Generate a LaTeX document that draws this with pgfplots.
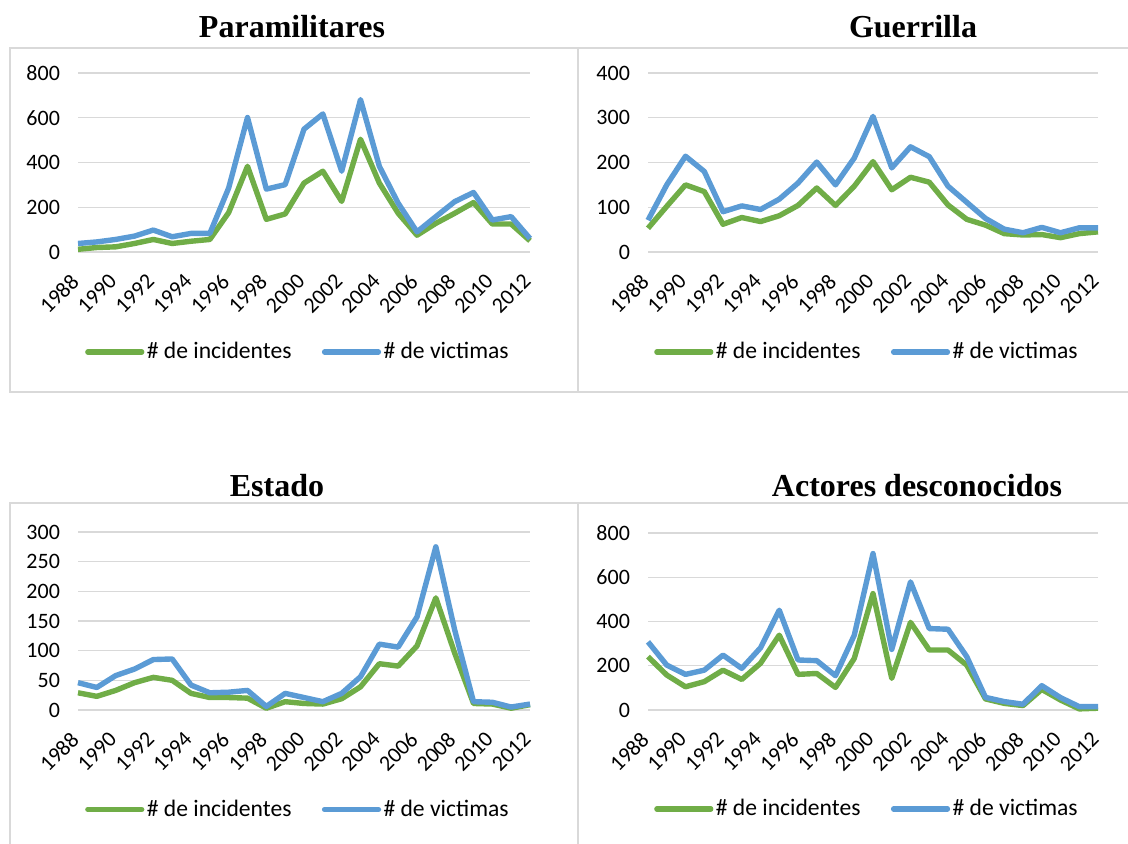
\documentclass[border=0pt]{standalone}
\usepackage{pgfplots}
\usepackage{pgfplotstable}
\pgfplotsset{compat=1.18}
\usepackage{fontspec}
\setmainfont{Carlito}
\newfontfamily\titlefont{Liberation Serif}
\definecolor{cgreen}{HTML}{70AD47}
\definecolor{cblue}{HTML}{5B9BD5}
\definecolor{cgrid}{HTML}{D9D9D9}

\pgfplotstableread{
year inc vic
1988 12 38
1989 20 45
1990 23 56
1991 38 71
1992 56 98
1993 38 68
1994 48 83
1995 56 83
1996 176 286
1997 383 601
1998 146 281
1999 170 301
2000 308 549
2001 361 617
2002 226 361
2003 504 681
2004 308 383
2005 173 218
2006 75 90
2007 128 158
2008 173 225
2009 221 266
2010 125 143
2011 125 158
2012 50 60
}\para

\pgfplotstableread{
year inc vic
1988 53 71
1989 102 150
1990 150 214
1991 135 180
1992 62 90
1993 77 103
1994 68 95
1995 81 118
1996 104 154
1997 143 201
1998 104 150
1999 147 210
2000 202 303
2001 139 188
2002 167 235
2003 156 213
2004 105 147
2005 73 111
2006 60 75
2007 41 51
2008 38 43
2009 39 55
2010 32 43
2011 41 54
2012 45 54
}\guer

\pgfplotstableread{
year inc vic
1988 29 46
1989 23 38
1990 33 58
1991 46 69
1992 55 85
1993 50 86
1994 28 42
1995 21 29
1996 21 30
1997 20 33
1998 3 6
1999 14 28
2000 11 21
2001 10 14
2002 19 28
2003 39 56
2004 78 111
2005 74 106
2006 108 157
2007 189 275
2008 96 135
2009 11 14
2010 10 13
2011 3 5
2012 9 10
}\estado

\pgfplotstableread{
year inc vic
1988 241 308
1989 158 203
1990 105 161
1991 128 180
1992 180 248
1993 138 188
1994 211 281
1995 338 451
1996 161 226
1997 165 223
1998 102 155
1999 233 338
2000 526 707
2001 143 274
2002 396 579
2003 271 368
2004 271 365
2005 203 241
2006 50 57
2007 30 38
2008 20 26
2009 93 110
2010 45 56
2011 5 15
2012 8 15
}\desc

\pgfplotsset{
 panel/.style={
  scale only axis, width=226pt, height=89.5pt,
  xmin=1988, xmax=2012, ymin=0,
  xtick={1988,1990,...,2012},
  enlargelimits=false, clip=false,
  axis line style={draw=none},
  major tick length=0pt,
  ymajorgrids, grid style={cgrid, line width=0.7pt},
  /pgf/number format/assume math mode=true,
  /pgf/number format/1000 sep={},
  tick label style={font=\fontsize{11}{13}\selectfont, text=black},
  xticklabel style={xshift=1pt, yshift=-10.5pt, rotate=45, anchor=east},
  yticklabel style={xshift=-5.5pt},
  legend columns=2,
  legend style={draw=none, fill=none, font=\fontsize{11.8}{14}\selectfont,
    at={(0.487,-0.559)}, anchor=center,
    nodes={inner xsep=1.2pt},
    /tikz/every even column/.append style={column sep=14pt}},
  legend image code/.code={\draw[##1, line width=2.6pt, line cap=round] (0pt,0pt) -- (27pt,0pt);},
  every axis plot/.append style={line width=2.7pt, line join=round, mark=none},
 }
}

\begin{document}
\begin{tikzpicture}
\path[use as bounding box] (0pt,0pt) rectangle (564pt,422pt);
% frames
\draw[cgrid, line width=0.75pt] (5pt,398pt) rectangle (289pt,226pt);
\draw[cgrid, line width=0.75pt] (289pt,398pt) rectangle (570pt,226pt);
\draw[cgrid, line width=0.75pt] (5pt,170.5pt) rectangle (289pt,-5pt);
\draw[cgrid, line width=0.75pt] (289pt,170.5pt) rectangle (570pt,-5pt);
% titles
\node[anchor=base, font=\titlefont\bfseries\fontsize{16}{19}\selectfont] at (146pt,403pt) {Paramilitares};
\node[anchor=base, font=\titlefont\bfseries\fontsize{16}{19}\selectfont] at (456.5pt,403pt) {Guerrilla};
\node[anchor=base, font=\titlefont\bfseries\fontsize{16}{19}\selectfont] at (138.5pt,173.5pt) {Estado};
\node[anchor=base, font=\titlefont\bfseries\fontsize{16}{19}\selectfont] at (458.5pt,173.5pt) {Actores desconocidos};

\begin{axis}[panel, at={(39pt,296pt)}, anchor=south west, ymax=800, ytick={0,200,...,800}]
\addplot[cgreen] table[x=year,y=inc]{\para};
\addplot[cblue] table[x=year,y=vic]{\para};
\legend{\# de incidentes, \# de victimas}
\end{axis}

\begin{axis}[panel, width=225pt, at={(324pt,296pt)}, anchor=south west, ymax=400, ytick={0,100,...,400}]
\addplot[cgreen] table[x=year,y=inc]{\guer};
\addplot[cblue] table[x=year,y=vic]{\guer};
\legend{\# de incidentes, \# de victimas}
\end{axis}

\begin{axis}[panel, height=89pt, at={(39pt,67pt)}, anchor=south west, ymax=300, ytick={0,50,...,300}]
\addplot[cgreen] table[x=year,y=inc]{\estado};
\addplot[cblue] table[x=year,y=vic]{\estado};
\legend{\# de incidentes, \# de victimas}
\end{axis}

\begin{axis}[panel, width=225pt, height=88.5pt, at={(324pt,67pt)}, anchor=south west, ymax=800, ytick={0,200,...,800}]
\addplot[cgreen] table[x=year,y=inc]{\desc};
\addplot[cblue] table[x=year,y=vic]{\desc};
\legend{\# de incidentes, \# de victimas}
\end{axis}
\end{tikzpicture}
\end{document}
